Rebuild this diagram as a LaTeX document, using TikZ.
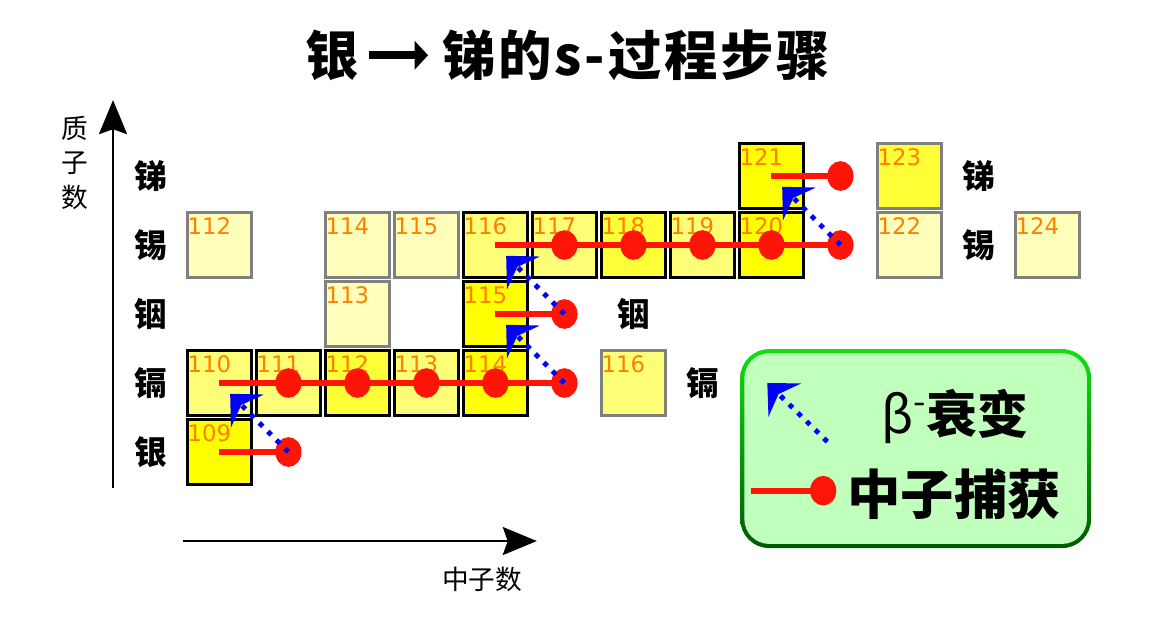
\documentclass[tikz,border=0pt]{standalone}
\usepackage{fontspec}
\setmainfont{Noto Sans CJK SC}
\newfontfamily\numfont{DejaVu Sans}
\usetikzlibrary{positioning,arrows.meta,shapes.geometric}

\definecolor{yA}{HTML}{FFFF00}
\definecolor{yB}{HTML}{FFFF38}
\definecolor{yC}{HTML}{FFFF77}
\definecolor{yD}{HTML}{FFFFBB}
\definecolor{numorange}{HTML}{FF8000}
\definecolor{capred}{HTML}{FF1408}
\definecolor{legendgreen}{HTML}{C0FFBC}
\definecolor{rimtop}{HTML}{10E010}
\definecolor{rimbottom}{HTML}{005A00}

\begin{document}
\begin{tikzpicture}[>=latex,
    title/.style={font=\fontsize{22}{26}\selectfont\bfseries\addfontfeature{LetterSpace=5}, inner sep=0pt},
    elem/.style={font=\fontsize{13.5}{16}\selectfont\bfseries, inner sep=0pt},
    axislabel/.style={font=\fontsize{11}{14.4}\selectfont, inner sep=0pt, align=center},
    legendtext/.style={font=\fontsize{22}{26}\selectfont\bfseries, inner sep=0pt},
    cell/.style={draw=black, line width=1.2pt, minimum size=0.93cm, inner sep=0pt},
    faint/.style={cell, draw=gray},
    num/.style={anchor=north west, inner xsep=0.5pt, inner ysep=2.5pt, text=numorange,
      font=\numfont\fontsize{9.4}{10}\selectfont},
    axis/.style={line width=1.2pt, -{Stealth[length=14pt, width=11.5pt, inset=2pt]}},
    capture/.style={capred, line width=2.4pt},
    ndot/.style={ellipse, fill=capred, minimum width=0.38cm, minimum height=0.43cm, inner sep=0pt},
    beta/.style={blue, line width=2pt, dash pattern=on 2pt off 3pt, shorten >=0.22cm,
      -{Stealth[length=10pt, width=19pt, inset=3.5pt]}}]
  \useasboundingbox (0,0) rectangle (17.014,9.101);

  % title
  \node[title] (tsrc) at (4.81,8.30) {银};
  \node[title, right=1.2cm of tsrc] (tdst) {锑的s-过程步骤};
  \draw[line width=3.2pt, shorten <=0.15cm, shorten >=0.2cm,
    -{Triangle[length=5.5pt, width=11.5pt]}] (tsrc) -- (tdst);

  % axes
  \draw[axis] (1.638,2.03) -- (1.638,7.65);
  \draw[axis] (2.65,1.26) -- (7.78,1.26);
  \node[axislabel] (zlabel) at (1.087,6.74) {质\\子\\数};
  \node[axislabel] (nlabel) at (6.99,0.70) {中子数};

  \begin{scope}[shift={(3.18,2.55)}]
    % isotopes off the path
    \foreach \c/\r/\el/\m/\col in {0/3/Sn/112/yD, 2/3/Sn/114/yD, 3/3/Sn/115/yD, 2/2/In/113/yD,
        6/1/Cd/116/yC, 10/3/Sn/122/yD, 12/3/Sn/124/yD, 10/4/Sb/123/yB}
      \node[faint, fill=\col, label={[num]north west:\m}] (\el\m) at (\c,\r) {};
    % isotopes on the s-process path
    \foreach \c/\r/\el/\m/\col in {0/0/Ag/109/yA, 0/1/Cd/110/yC, 1/1/Cd/111/yC, 2/1/Cd/112/yB,
        3/1/Cd/113/yC, 4/1/Cd/114/yA, 4/2/In/115/yA, 4/3/Sn/116/yC, 5/3/Sn/117/yC,
        6/3/Sn/118/yB, 7/3/Sn/119/yC, 8/3/Sn/120/yA, 8/4/Sb/121/yA}
      \node[cell, fill=\col, label={[num]north west:\m}] (\el\m) at (\c,\r) {};

    % element names
    \foreach \r/\el in {0/银, 1/镉, 2/铟, 3/锡, 4/锑}
      \node[elem] (name\r) at (-1,\r) {\el};
    \node[elem] (nameCd) at (7,1) {镉};
    \node[elem] (nameIn) at (6,2) {铟};
    \node[elem] (nameSn) at (11,3) {锡};
    \node[elem] (nameSb) at (11,4) {锑};

    % neutron captures
    \draw[capture] (Ag109.center) -- ++(1,0) node[ndot] (dAg110) {};
    \draw[capture] (Cd110.center) -- ++(5,0)
      node[ndot, pos=.2] (dCd111) {} node[ndot, pos=.4] (dCd112) {}
      node[ndot, pos=.6] (dCd113) {} node[ndot, pos=.8] (dCd114) {}
      node[ndot] (dCd115) {};
    \draw[capture] (In115.center) -- ++(1,0) node[ndot] (dIn116) {};
    \draw[capture] (Sn116.center) -- ++(5,0)
      node[ndot, pos=.2] (dSn117) {} node[ndot, pos=.4] (dSn118) {}
      node[ndot, pos=.6] (dSn119) {} node[ndot, pos=.8] (dSn120) {}
      node[ndot] (dSn121) {};
    \draw[capture] (Sb121.center) -- ++(1,0) node[ndot] (dSb122) {};

    % beta decays
    \draw[beta] (dAg110.center) -- (Cd110.center);
    \draw[beta] (dCd115.center) -- (In115.center);
    \draw[beta] (dIn116.center) -- (Sn116.center);
    \draw[beta] (dSn121.center) -- (Sb121.center);
  \end{scope}

  % legend
  \node[rounded corners=0.42cm, top color=rimtop, bottom color=rimbottom,
    minimum width=5.085cm, minimum height=2.884cm] (legendrim) at (13.27,2.60) {};
  \node[rounded corners=0.36cm, fill=legendgreen,
    minimum width=4.965cm, minimum height=2.764cm] (legend) at (legendrim) {};
  \coordinate (bstart) at (11.99,2.70);
  \coordinate (btip) at (11.12,3.55);
  \draw[beta, shorten >=0pt] (bstart) -- (btip);
  \node[legendtext, font=\fontsize{21}{26}\selectfont\bfseries] (betatext) at (13.84,3.07)
    {{\mdseries β\textsuperscript{-}}衰变};
  \coordinate (cstart) at (10.88,1.99);
  \draw[capture] (cstart) -- ++(1.05,0) node[ndot] (cdot) {};
  \node[legendtext] (captext) at (13.83,1.94) {中子捕获};
\end{tikzpicture}
\end{document}
